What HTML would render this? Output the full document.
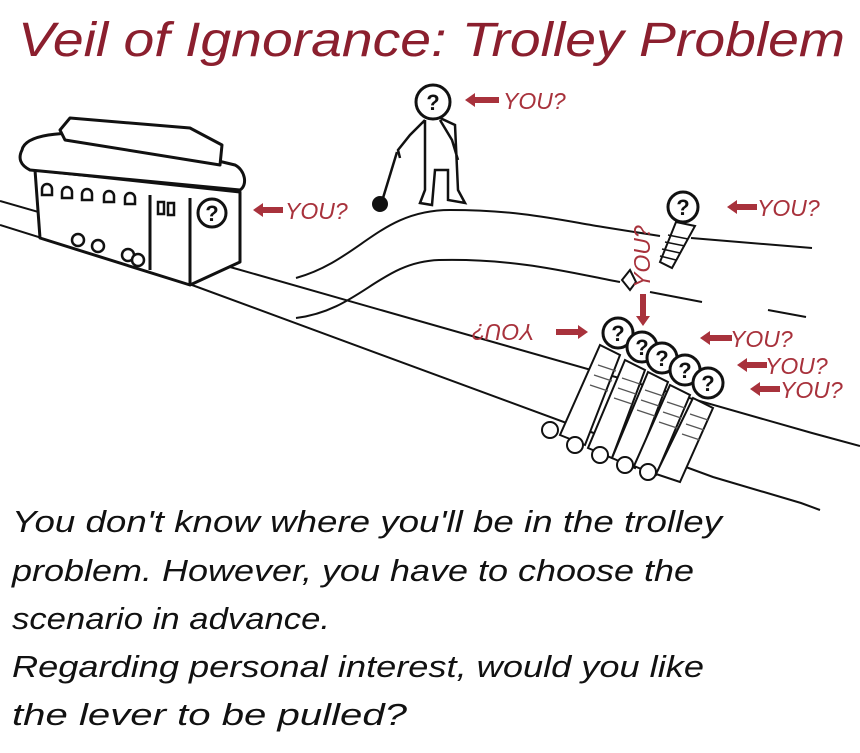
<!DOCTYPE html>
<html><head><meta charset="utf-8"><style>
html,body{margin:0;padding:0;background:#fff;}
svg{display:block;}
.r{fill:#a8323c;font-family:"Liberation Sans",sans-serif;font-style:italic;font-size:23px;}
.b{font-family:"Liberation Sans",sans-serif;font-style:italic;font-size:31px;fill:#111;}
</style></head><body>
<svg width="860" height="753" viewBox="0 0 860 753" xmlns="http://www.w3.org/2000/svg">
<rect width="860" height="753" fill="#fff"/>
<text x="18" y="56" font-family="Liberation Sans, sans-serif" font-style="italic" font-size="48" fill="#8b1f2e" textLength="827" lengthAdjust="spacingAndGlyphs">Veil of Ignorance: Trolley Problem</text>
<g fill="none" stroke="#111" stroke-width="2">
<path d="M0,201 L230,267 L812,433 L860,446"/>
<path d="M0,225 L192,285 L713,477 L801,503 L820,510"/>
<path d="M296,278 C360,260 380,210 450,210 C520,210 560,220 603,227 L660,236"/>
<path d="M691,238 L812,248"/>
<path d="M296,318 C360,310 380,262 439,260 C520,258 580,275 620,282"/>
<path d="M650,292 L702,302"/>
<path d="M768,310 L806,317"/>
</g>
<!-- trolley -->
<g stroke="#111" stroke-width="3" fill="#fff" stroke-linejoin="round">
<path d="M35,170 L240,192 L240,262 L190,285 L40,238Z"/>
<path d="M22,150 C25,135 60,130 110,135 L235,165 C245,170 248,185 240,190 L30,170 C20,165 18,158 22,150Z"/>
<path d="M60,130 L70,118 L190,128 L222,145 L220,165 L65,140Z"/>
<path d="M150,195 L150,270" fill="none"/>
<path d="M190,198 L190,285" fill="none"/>
</g>
<g fill="#fff" stroke="#111" stroke-width="2.5">
<path d="M42,195 v-6 a5,5 0 0 1 10,0 v6z"/><path d="M62,198 v-6 a5,5 0 0 1 10,0 v6z"/><path d="M82,200 v-6 a5,5 0 0 1 10,0 v6z"/><path d="M104,202 v-6 a5,5 0 0 1 10,0 v6z"/><path d="M125,204 v-6 a5,5 0 0 1 10,0 v6z"/>
<rect x="158" y="202" width="6" height="12"/><rect x="168" y="203" width="6" height="12"/>
<circle cx="78" cy="240" r="6"/><circle cx="98" cy="246" r="6"/><circle cx="128" cy="255" r="6"/><circle cx="138" cy="260" r="6"/>
</g>
<!-- man with lever -->
<g fill="none" stroke="#111" stroke-width="2.5">
<path d="M425,120 L410,135 L398,150 L400,158 M440,120 L452,140 L458,160 M425,120 L425,190 L420,203 L432,205 L435,170 L448,170 L448,200 L465,203 L458,190 L455,125 L440,118"/>
<path d="M397,152 L383,198"/>
</g>
<circle cx="380" cy="204" r="8" fill="#111"/>
<path d="M676,222 L695,226 L672,268 L660,262Z" fill="#fff" stroke="#111" stroke-width="2"/>
<path d="M668,235 l20,4 M665,242 l20,4 M662,249 l18,4 M660,256 l16,4" stroke="#111" stroke-width="1.5"/>
<path d="M622,280 l8,-10 l6,12 l-6,8z" fill="#fff" stroke="#111" stroke-width="2"/>
<g fill="#fff" stroke="#111" stroke-width="2">
<path d="M600,345 L620,355 L585,445 L560,435Z"/>
<path d="M625,360 L645,370 L612,458 L588,448Z"/>
<path d="M648,372 L668,382 L635,468 L612,458Z"/>
<path d="M670,385 L690,395 L656,475 L634,466Z"/>
<path d="M693,398 L713,408 L680,482 L656,474Z"/>
<circle cx="550" cy="430" r="8"/><circle cx="575" cy="445" r="8"/><circle cx="600" cy="455" r="8"/><circle cx="625" cy="465" r="8"/><circle cx="648" cy="472" r="8"/>
</g>
<g stroke="#555" stroke-width="1.2">
<path d="M598,365 l18,6 M594,375 l18,6 M590,385 l18,6 M622,378 l18,6 M618,388 l18,6 M614,398 l18,6 M645,390 l18,6 M641,400 l18,6 M637,410 l18,6 M667,402 l18,6 M663,412 l18,6 M659,422 l18,6 M690,414 l18,6 M686,424 l18,6 M682,434 l18,6"/>
</g>
<g fill="#fff" stroke="#111" stroke-width="3">
<circle cx="433" cy="102" r="17"/>
<circle cx="212" cy="213" r="14"/>
<circle cx="683" cy="207" r="15"/>
<circle cx="618" cy="333" r="15"/>
<circle cx="642" cy="347" r="15"/>
<circle cx="662" cy="358" r="15"/>
<circle cx="685" cy="370" r="15"/>
<circle cx="708" cy="383" r="15"/>
</g>
<g font-family="Liberation Sans, sans-serif" font-weight="bold" font-size="22" fill="#111" text-anchor="middle">
<text x="433" y="110">?</text><text x="212" y="221">?</text><text x="683" y="215">?</text><text x="618" y="341">?</text><text x="642" y="355">?</text><text x="662" y="366">?</text><text x="685" y="378">?</text><text x="708" y="391">?</text>
</g>
<g fill="#a8323c">
<path d="M465,100 l10,-7 v4 h24 v6 h-24 v4z"/>
<path d="M253,210 l10,-7 v4 h20 v6 h-20 v4z"/>
<path d="M727,207 l10,-7 v4 h20 v6 h-20 v4z"/>
<path d="M700,338 l10,-7 v4 h22 v6 h-22 v4z"/>
<path d="M737,365 l10,-7 v4 h20 v6 h-20 v4z"/>
<path d="M750,389 l10,-7 v4 h20 v6 h-20 v4z"/>
<path d="M588,332 l-10,-7 v4 h-22 v6 h22 v4z"/>
<path d="M643,326 l-7,-10 h4 v-22 h6 v22 h4z"/>
</g>
<text class="r" x="503" y="109">YOU?</text>
<text class="r" x="285" y="219">YOU?</text>
<text class="r" x="757" y="216">YOU?</text>
<text class="r" x="730" y="347">YOU?</text>
<text class="r" x="765" y="374">YOU?</text>
<text class="r" x="780" y="398">YOU?</text>
<text class="r" transform="translate(535,324) rotate(180)">YOU?</text>
<text class="r" transform="translate(650,288) rotate(-90)">YOU?</text>
<text class="b" x="12" y="532" textLength="710" lengthAdjust="spacingAndGlyphs">You don't know where you'll be in the trolley</text>
<text class="b" x="12" y="581" textLength="682" lengthAdjust="spacingAndGlyphs">problem. However, you have to choose the</text>
<text class="b" x="12" y="629" textLength="318" lengthAdjust="spacingAndGlyphs">scenario in advance.</text>
<text class="b" x="12" y="677" textLength="692" lengthAdjust="spacingAndGlyphs">Regarding personal interest, would you like</text>
<text class="b" x="12" y="725" textLength="395" lengthAdjust="spacingAndGlyphs">the lever to be pulled?</text>
</svg>
</body></html>
